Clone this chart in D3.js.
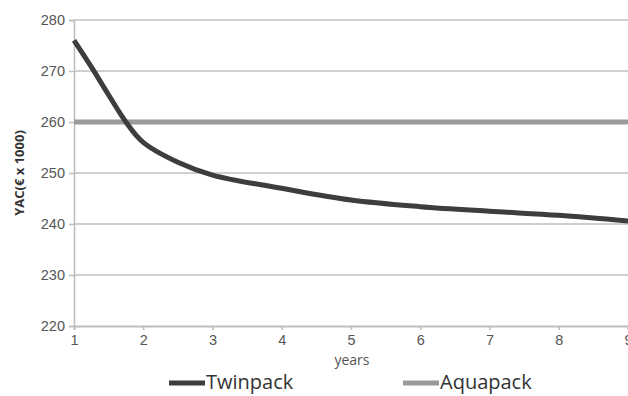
<!DOCTYPE html>
<html><head><meta charset="utf-8">
<script src="https://cdn.jsdelivr.net/npm/d3@7"></script>
<style>body{margin:0;background:#fff;} svg{display:block;font-family:"Open Sans",sans-serif;}</style>
</head><body>
<svg id="c" width="628" height="396"></svg>
<script>
const years = [1, 1.25, 1.5, 1.75, 2, 2.5, 3, 4, 5, 6, 7, 8, 9];
const twinpack = [276, 270.8, 265.3, 260, 256, 252.1, 249.6, 247, 244.7, 243.4, 242.5, 241.7, 240.6];
const aquapackYears = [1, 9];
const aquapack = [260, 260];
const xTicks = [1, 2, 3, 4, 5, 6, 7, 8, 9];
const yTicks = [220, 230, 240, 250, 260, 270, 280];
const seriesNames = ["Twinpack", "Aquapack"];

const svg = d3.select("#c");
const x = d3.scaleLinear().domain([1, 9]).range([74, 628]);
const y = d3.scaleLinear().domain([220, 280]).range([326, 20]);

// gridlines
svg.append("g").selectAll("line").data(yTicks.filter(d => d !== 220)).join("line")
  .attr("x1", 74).attr("x2", 628).attr("y1", d => y(d)).attr("y2", d => y(d))
  .attr("stroke", "#cfcfcf").attr("stroke-width", 2);

// y axis
const yAxis = svg.append("g").attr("transform", "translate(74,0)")
  .call(d3.axisLeft(y).tickValues(yTicks).tickSize(5).tickPadding(4));
yAxis.select(".domain").attr("stroke", "#bdbdbd").attr("stroke-width", 1.5);
yAxis.selectAll(".tick line").attr("stroke", "#bdbdbd").attr("stroke-width", 1.5);
yAxis.selectAll(".tick text").attr("fill", "#555").style("font-size", "14.5px");

// x axis
const xAxis = svg.append("g").attr("transform", "translate(0,326)")
  .call(d3.axisBottom(x).tickValues(xTicks).tickSize(4).tickPadding(5));
xAxis.select(".domain").attr("stroke", "#bdbdbd").attr("stroke-width", 2);
xAxis.selectAll(".tick line").attr("stroke", "#bdbdbd").attr("stroke-width", 1.5);
xAxis.selectAll(".tick text").attr("fill", "#555").style("font-size", "14.5px");

// lines
const line = d3.line().x(d => x(d[0])).y(d => y(d[1]));
svg.append("path").datum(aquapackYears.map((d, i) => [d, aquapack[i]]))
  .attr("d", line).attr("fill", "none").attr("stroke", "#9a9a9a").attr("stroke-width", 5);
svg.append("path").datum(years.map((d, i) => [d, twinpack[i]]))
  .attr("d", line.curve(d3.curveCatmullRom.alpha(0.5))).attr("fill", "none")
  .attr("stroke", "#3d3d3d").attr("stroke-width", 5).attr("stroke-linecap", "butt");

// axis titles
svg.append("text").attr("x", 352).attr("y", 365).attr("text-anchor", "middle")
  .attr("fill", "#555").style("font-size", "14px").text("years");
svg.append("text").attr("transform", "translate(24,173) rotate(-90)").attr("text-anchor", "middle")
  .attr("fill", "#333").style("font-size", "13px").style("font-weight", "bold").text("YAC(€ x 1000)");

// legend
const legend = [
  {name: seriesNames[0], color: "#3d3d3d", x0: 169},
  {name: seriesNames[1], color: "#9a9a9a", x0: 403}
];
const lg = svg.append("g").selectAll("g").data(legend).join("g");
lg.append("line").attr("x1", d => d.x0).attr("x2", d => d.x0 + 36).attr("y1", 383).attr("y2", 383)
  .attr("stroke", d => d.color).attr("stroke-width", 5);
lg.append("text").attr("x", d => d.x0 + 37).attr("y", 389).attr("fill", "#333")
  .style("font-size", "20px").text(d => d.name);
</script>
</body></html>
